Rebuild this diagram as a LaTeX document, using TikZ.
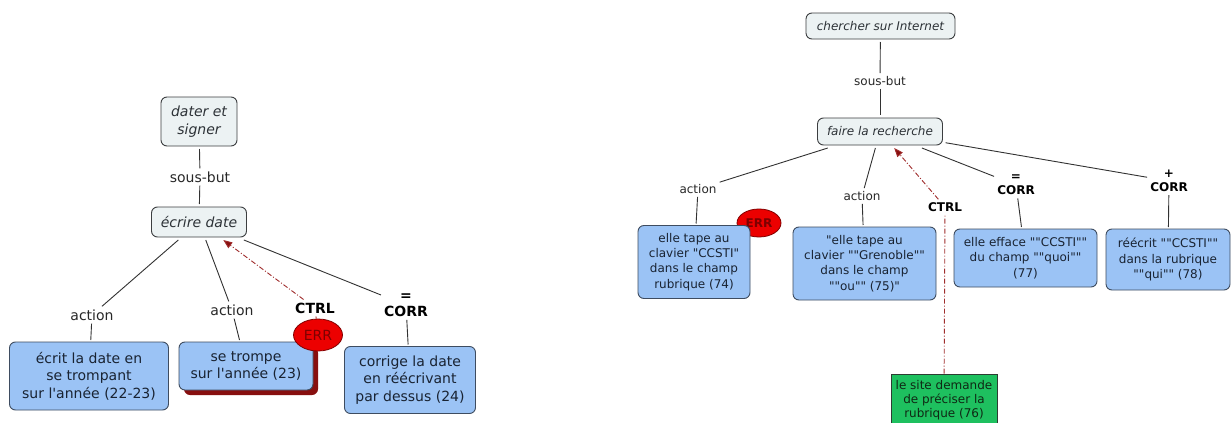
\documentclass[tikz,border=0pt]{standalone}
\usepackage{fontspec}
\setmainfont{DejaVu Sans}[Ligatures=TeXOff]
\usetikzlibrary{shapes.geometric}
\usetikzlibrary{arrows.meta}
\usetikzlibrary{shadows}

\definecolor{conceptfill}{RGB}{236,242,243}
\definecolor{conceptline}{RGB}{60,62,64}
\definecolor{conceptext}{RGB}{45,50,55}
\definecolor{boxblue}{RGB}{155,195,245}
\definecolor{boxline}{RGB}{62,76,96}
\definecolor{boxtext}{RGB}{25,35,50}
\definecolor{linktext}{RGB}{40,40,40}
\definecolor{linkgray}{RGB}{50,50,50}
\definecolor{ctrlred}{RGB}{160,45,45}
\definecolor{errred}{RGB}{236,0,0}
\definecolor{errline}{RGB}{130,0,0}
\definecolor{errtext}{RGB}{125,0,0}
\definecolor{shadowred}{RGB}{135,15,15}
\definecolor{sitegreen}{RGB}{30,192,95}
\definecolor{siteline}{RGB}{45,60,50}
\definecolor{sitetext}{RGB}{15,40,20}

\newcommand{\bigtxt}{\fontsize{14}{17.5}\selectfont}
\newcommand{\smalltxt}{\fontsize{12}{15.3}\selectfont}

\begin{document}
\begin{tikzpicture}[x=1pt,y=-1pt,
  concept/.style={draw=conceptline, fill=conceptfill, line width=0.9pt, rounded corners=6pt,
    align=center, inner sep=2pt, outer sep=3pt, text=conceptext, font={#1\itshape}},
  linkword/.style={align=center, inner sep=3pt, text=linktext, font=#1},
  linkbold/.style={align=center, inner sep=3pt, text=black, font={#1\bfseries}},
  actionbox/.style={draw=boxline, fill=boxblue, line width=0.9pt, rounded corners=6pt,
    align=center, inner sep=2pt, outer sep=2pt, text=boxtext, font=#1},
  errtag/.style={ellipse, draw=errline, fill=errred, line width=0.8pt, text=errtext,
    inner sep=0pt, font=#1},
  sitebox/.style={draw=siteline, fill=sitegreen, line width=0.9pt, align=center,
    inner sep=2pt, text=sitetext, font={\fontsize{12}{14}\selectfont}},
  joinline/.style={draw=linkgray, line width=0.9pt},
  ctrlline/.style={draw=ctrlred, line width=0.9pt, dash pattern=on 5pt off 2pt on 1pt off 2pt}]

  \fill[white] (0,0) rectangle (1232,423);
  \useasboundingbox (0,0) rectangle (1232,423);

  % left map: dater et signer
  \node[concept=\bigtxt, minimum width=76, minimum height=49] (dater) at (199,121.5) {dater et\\signer};
  \node[linkword=\bigtxt] (sousbutL) at (200,177) {sous-but};
  \node[concept=\bigtxt, minimum width=95, minimum height=30] (ecrire) at (199,222) {écrire date};

  \node[linkword=\bigtxt] (actL1) at (92,315) {action};
  \node[linkword=\bigtxt] (actL2) at (232,310) {action};
  \node[linkbold=\bigtxt] (ctrlL) at (315,308) {CTRL};
  \node[linkbold=\bigtxt] (corrL) at (406,305) {=\\[-1pt]CORR};

  \node[actionbox=\bigtxt, minimum width=159, minimum height=68] (ecrit) at (89,376)
    {écrit la date en\\se trompant\\sur l'année (22-23)};
  \node[actionbox=\bigtxt, minimum width=134, minimum height=48,
    drop shadow={shadow xshift=5pt, shadow yshift=-5pt, fill=shadowred, opacity=1}] (trompe) at (246,366)
    {se trompe\\sur l'année (23)};
  \node[errtag=\bigtxt, minimum width=49, minimum height=32] (errL) at (318,335) {ERR};
  \node[actionbox=\bigtxt, minimum width=131, minimum height=67] (corrige) at (410,380)
    {corrige la date\\en réécrivant\\par dessus (24)};

  \draw[joinline] (dater) -- (sousbutL);
  \draw[joinline] (sousbutL) -- (ecrire);
  \draw[joinline] (ecrire) -- (actL1);
  \draw[joinline] (actL1) -- (ecrit);
  \draw[joinline] (ecrire) -- (actL2);
  \draw[joinline] (actL2) -- (trompe);
  \draw[joinline] (ecrire) -- (corrL);
  \draw[joinline] (corrL) -- (corrige);
  \draw[ctrlline] (errL) -- (ctrlL);
  \draw[ctrlline, -{Triangle[length=9pt, width=7pt, fill=shadowred]}] (ctrlL) -- (ecrire);

  % right map: chercher sur Internet
  \node[concept=\smalltxt, minimum width=149, minimum height=26] (chercher) at (880.5,26) {chercher sur Internet};
  \node[linkword=\smalltxt] (sousbutR) at (880,81) {sous-but};
  \node[concept=\smalltxt, minimum width=125, minimum height=27] (faire) at (880,131.5) {faire la recherche};

  \node[linkword=\smalltxt] (actR1) at (698,189) {action};
  \node[linkword=\smalltxt] (actR2) at (862,196) {action};
  \node[linkbold=\smalltxt] (ctrlR) at (945,207) {CTRL};
  \node[linkbold=\smalltxt] (corrR1) at (1016,185) {=\\[-1pt]CORR};
  \node[linkbold=\smalltxt] (corrR2) at (1169,181) {+\\[-1pt]CORR};

  \node[errtag=\smalltxt\bfseries, minimum width=44, minimum height=28] (errR) at (759,223) {ERR};
  \node[actionbox=\smalltxt, minimum width=112, minimum height=73] (tape1) at (694,262)
    {elle tape au\\clavier "CCSTI"\\dans le champ\\rubrique (74)};
  \node[actionbox=\smalltxt, minimum width=143, minimum height=73] (tape2) at (864.5,263.5)
    {"elle tape au\\clavier ""Grenoble""\\dans le champ\\""ou"" (75)"};
  \node[actionbox=\smalltxt, minimum width=143, minimum height=58] (efface) at (1025.5,258)
    {elle efface ""CCSTI""\\du champ ""quoi""\\(77)};
  \node[actionbox=\smalltxt, minimum width=124, minimum height=61] (reecrit) at (1168,259.5)
    {réécrit ""CCSTI""\\dans la rubrique\\""qui"" (78)};
  \node[sitebox, minimum width=106, minimum height=52] (site) at (944,400)
    {le site demande\\de préciser la\\rubrique (76)};

  \draw[joinline] (chercher) -- (sousbutR);
  \draw[joinline] (sousbutR) -- (faire);
  \draw[joinline] (faire) -- (actR1);
  \draw[joinline] (actR1) -- (tape1);
  \draw[joinline] (faire) -- (actR2);
  \draw[joinline] (actR2) -- (tape2);
  \draw[joinline] (faire) -- (corrR1);
  \draw[joinline] (corrR1) -- (efface);
  \draw[joinline] (faire) -- (corrR2);
  \draw[joinline] (corrR2) -- (reecrit);
  \draw[ctrlline] (site) -- (ctrlR);
  \draw[ctrlline, -{Triangle[length=9pt, width=7pt, fill=shadowred]}] (ctrlR) -- (faire);
\end{tikzpicture}
\end{document}
